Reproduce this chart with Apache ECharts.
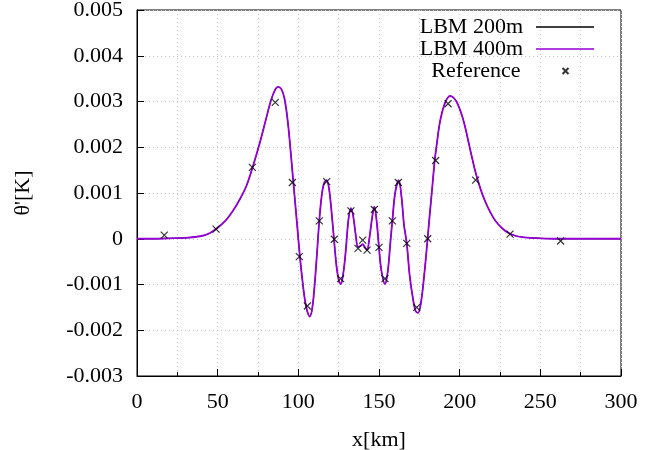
<!DOCTYPE html>
<html>
<head>
<meta charset="utf-8">
<script src="https://cdn.jsdelivr.net/npm/echarts@6/dist/echarts.min.js"></script>
<style>html,body{margin:0;padding:0;background:#fff;}#chart{width:667px;height:450px;}</style>
</head>
<body>
<div id="chart"></div>
<script>
// x [km], theta' [K] for the LBM curves
const lbm400 = [
  [0,0],[10,0],[20,0.00001],[30,0.00002],[40,0.00006],[45,0.00012],[50,0.00024],[55,0.00040],
  [60,0.00064],[64,0.00088],[68,0.00117],[72,0.00160],[76,0.00208],[80,0.00262],[83,0.00302],
  [85.5,0.00325],[87.5,0.00332],[89.5,0.00327],[91.5,0.00305],[93.5,0.00255],[95,0.00200],
  [96.5,0.00140],[98,0.00080],[99.5,0.00020],[101,-0.00040],[102.5,-0.00090],[104,-0.00132],
  [105.5,-0.00158],[107,-0.00170],[108.5,-0.00155],[110,-0.00105],[111.5,-0.00035],[113,0.00040],
  [114.5,0.00095],[116,0.00122],[117.5,0.00128],[119,0.00110],[120.5,0.00062],[122,0.00003],
  [123.5,-0.00055],[125,-0.00090],[126.3,-0.00099],[128,-0.00072],[129.5,-0.00022],[131,0.00040],
  [132.6,0.00067],[134,0.00050],[135.5,0.00010],[137,-0.00018],[138.5,-0.00016],[140,-0.00012],
  [141.5,-0.00020],[142.6,-0.00025],[144,0.00000],[145.5,0.00040],[147.1,0.00070],[148.5,0.00040],
  [150,-0.00020],[151.5,-0.00070],[153.7,-0.00099],[155.5,-0.00070],[157,-0.00010],[158.3,0.00040],
  [160,0.00100],[162.2,0.00128],[164,0.00090],[165.5,0.00030],[167.2,-0.00010],[169,-0.00080],
  [171,-0.00130],[172.7,-0.00158],[174.2,-0.00162],[176,-0.00140],[178,-0.00080],[180,-0.00005],
  [181.5,0.00055],[183,0.00112],[184.5,0.00170],[186,0.00212],[187.5,0.00250],[189,0.00275],
  [190.5,0.00293],[192,0.00305],[194,0.00312],[196,0.00309],[198,0.00300],[200,0.00284],
  [202,0.00263],[204,0.00235],[206,0.00203],[208,0.00172],[210,0.00143],[213,0.00108],
  [216,0.00080],[219,0.00058],[222,0.00040],[226,0.00024],[230,0.00013],[235,0.00006],
  [240,0.00003],[250,0.00001],[260,0],[270,0],[280,0],[290,0],[300,0]
];
const lbm200 = lbm400.map(p => [p[0], p[1]]);
const reference = [
  [16.9,0.00008],[49.0,0.00021],[71.5,0.00156],[85.7,0.00298],[96.3,0.00123],[100.6,-0.00039],
  [105.6,-0.00147],[113.0,0.00039],[117.6,0.00125],[122.3,-0.00001],[126.2,-0.00087],[132.6,0.00061],
  [137.0,-0.00021],[139.9,-0.00003],[142.6,-0.00025],[147.1,0.00064],[150.0,-0.00019],[153.7,-0.00087],
  [158.3,0.00039],[162.0,0.00123],[167.2,-0.00010],[173.4,-0.00150],[180.2,0.00000],[185.1,0.00171],
  [192.8,0.00295],[209.9,0.00128],[231.2,0.00010],[262.6,-0.00005]
];
const seriesNames = ['LBM 200m', 'LBM 400m', 'Reference'];
const xTitle = 'x[km]';
const yTitle = "θ'[K]";

const FONT = "'Liberation Serif', 'DejaVu Serif', serif";
const FS = 22;
const XSYM = 'path://M0,0L10,10M10,0L0,10';
const LINEICON = 'path://M0,0L58,0L58,1.5L0,1.5Z';

const chart = echarts.init(document.getElementById('chart'), null, {renderer: 'canvas'});
function legendFor(name, icon, topPx, rightPx, w, padR) {
  return {
    data: [{name: name, icon: icon}],
    right: rightPx, top: topPx, orient: 'vertical', align: 'right', padding: 0,
    itemWidth: w, itemHeight: 7, symbolKeepAspect: true, selectedMode: false,
    textStyle: {fontFamily: FONT, fontSize: FS, color: '#000', padding: [0, padR, 0, 0]}
  };
}
chart.setOption({
  animation: false,
  backgroundColor: '#fff',
  grid: {left: 137, right: 46, top: 10, bottom: 74, show: true, borderColor: '#000', borderWidth: 1,
    containLabel: false, outerBoundsMode: 'none'},
  legend: [
    legendFor(seriesNames[0], LINEICON, 16, 73, 58, 8),
    legendFor(seriesNames[1], LINEICON, 38, 73, 58, 8),
    legendFor(seriesNames[2], XSYM, 60, 96, 6, 37)
  ],
  xAxis: {
    type: 'value', min: 0, max: 300, interval: 50,
    name: xTitle, nameLocation: 'middle', nameGap: 53,
    nameTextStyle: {fontFamily: FONT, fontSize: FS, color: '#000'},
    axisLine: {show: true, onZero: false, lineStyle: {color: '#000', width: 1}},
    axisTick: {show: true, inside: true, length: 7, lineStyle: {color: '#000'}},
    minorTick: {show: true, splitNumber: 2, length: 4, lineStyle: {color: '#000'}},
    axisLabel: {fontFamily: FONT, fontSize: FS, color: '#000', margin: 15},
    splitLine: {show: true, lineStyle: {color: '#c8c8c8', type: [1, 3], width: 1}},
    minorSplitLine: {show: true, lineStyle: {color: '#c8c8c8', type: [1, 3], width: 1}}
  },
  yAxis: {
    type: 'value', min: -0.003, max: 0.005, interval: 0.001,
    name: yTitle, nameLocation: 'middle', nameGap: 103, nameRotate: 90,
    nameTextStyle: {fontFamily: FONT, fontSize: FS, color: '#000'},
    axisLine: {show: true, onZero: false, lineStyle: {color: '#000', width: 1}},
    axisTick: {show: true, inside: true, length: 7, lineStyle: {color: '#000'}},
    axisLabel: {fontFamily: FONT, fontSize: FS, color: '#000', margin: 14,
      formatter: v => String(+v.toFixed(3))},
    splitLine: {show: true, lineStyle: {color: '#c8c8c8', type: [1, 3], width: 1}}
  },
  series: [
    {name: seriesNames[0], type: 'line', data: lbm200, symbol: 'none', smooth: 0.35,
      color: '#000', lineStyle: {color: '#000', width: 1}, z: 2},
    {name: seriesNames[1], type: 'line', data: lbm400, symbol: 'none', smooth: 0.35,
      color: '#9400d3', lineStyle: {color: '#9400d3', width: 1.8}, z: 3},
    {name: seriesNames[2], type: 'scatter', data: reference, symbol: XSYM, symbolSize: 7,
      itemStyle: {color: 'none', borderColor: '#000', borderWidth: 1.2}, z: 4}
  ]
});
</script>
</body>
</html>
